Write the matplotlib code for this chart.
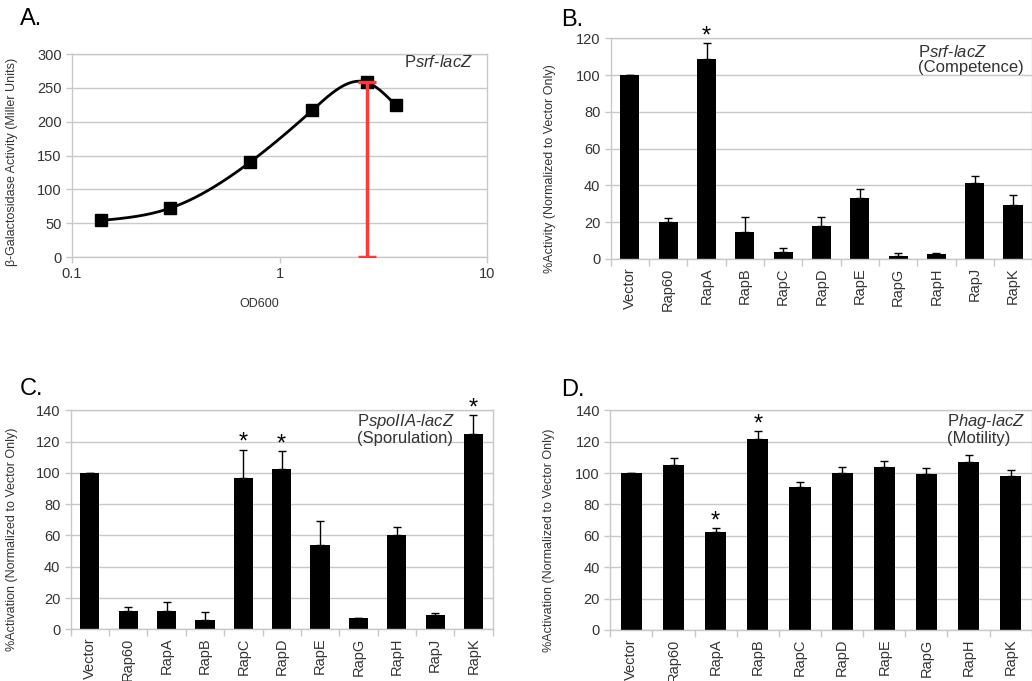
import numpy as np
import matplotlib
matplotlib.use("Agg")
import matplotlib.pyplot as plt

plt.rcParams['font.family'] = ['Liberation Sans', 'DejaVu Sans']
plt.rcParams['mathtext.fontset'] = 'custom'
plt.rcParams['mathtext.rm'] = 'Liberation Sans'
plt.rcParams['mathtext.it'] = 'Liberation Sans:italic'

TXT = '#333333'
GRID = '#c8c8c8'

# ---- panel A data ----
od600 = [0.138, 0.296, 0.72, 1.44, 2.64, 3.64]
miller = [54, 72, 140, 217, 258, 224]
peak_idx = 4

# ---- panel B data ----
cats_b = ['Vector', 'Rap60', 'RapA', 'RapB', 'RapC', 'RapD', 'RapE', 'RapG', 'RapH', 'RapJ', 'RapK']
vals_b = [100, 19.9, 108.9, 14.5, 4.0, 18.1, 33.4, 1.6, 2.7, 41.1, 29.2]
err_b = [0, 2.4, 8.4, 8.2, 2.0, 4.6, 4.8, 1.8, 0.7, 4.0, 5.6]
star_b = ['RapA']

# ---- panel C data ----
cats_c = ['Vector', 'Rap60', 'RapA', 'RapB', 'RapC', 'RapD', 'RapE', 'RapG', 'RapH', 'RapJ', 'RapK']
vals_c = [100, 11.7, 11.7, 5.8, 97.0, 102.5, 54.1, 7.0, 60.3, 8.9, 125.0]
err_c = [0, 2.6, 5.8, 5.5, 17.9, 11.5, 15.4, 0.5, 5.3, 1.8, 11.8]
star_c = ['RapC', 'RapD', 'RapK']

# ---- panel D data ----
cats_d = ['Vector', 'Rap60', 'RapA', 'RapB', 'RapC', 'RapD', 'RapE', 'RapG', 'RapH', 'RapK']
vals_d = [100, 105.4, 62.2, 121.7, 90.9, 100.3, 103.7, 99.4, 107.1, 97.9]
err_d = [0, 4.2, 2.6, 5.1, 3.7, 3.8, 4.0, 3.8, 4.5, 3.9]
star_d = ['RapA', 'RapB']


def natural_spline(x, y, n=300):
    # natural cubic spline for drawing the smoothed line
    x = np.asarray(x, float)
    y = np.asarray(y, float)
    k = len(x)
    h = np.diff(x)
    A = np.zeros((k, k))
    r = np.zeros(k)
    A[0, 0] = A[-1, -1] = 1
    for i in range(1, k - 1):
        A[i, i - 1] = h[i - 1]
        A[i, i] = 2 * (h[i - 1] + h[i])
        A[i, i + 1] = h[i]
        r[i] = 3 * ((y[i + 1] - y[i]) / h[i] - (y[i] - y[i - 1]) / h[i - 1])
    c = np.linalg.solve(A, r)
    b = (y[1:] - y[:-1]) / h - h * (2 * c[:-1] + c[1:]) / 3
    d = (c[1:] - c[:-1]) / (3 * h)
    xs = np.linspace(x[0], x[-1], n)
    idx = np.clip(np.searchsorted(x, xs) - 1, 0, k - 2)
    dx = xs - x[idx]
    ys = y[idx] + b[idx] * dx + c[idx] * dx ** 2 + d[idx] * dx ** 3
    return xs, ys


def style_axes(ax):
    for s in ax.spines.values():
        s.set_color(GRID)
        s.set_linewidth(1.0)
    ax.grid(axis='y', color=GRID, linewidth=1.0)
    ax.set_axisbelow(True)
    ax.tick_params(axis='both', colors=GRID, labelcolor=TXT, labelsize=10.5,
                   length=4, width=1.0)


def bar_panel(ax, cats, vals, errs, stars, ymax, label, ylabel_pos):
    x = np.arange(len(cats))
    ax.bar(x, vals, width=0.5, color='black', zorder=2)
    ax.errorbar(x, vals, yerr=[np.zeros(len(errs)), errs], fmt='none',
                ecolor='black', elinewidth=1.0, capsize=3, capthick=1.0, zorder=3)
    for c in stars:
        i = cats.index(c)
        ax.annotate('*', (x[i], vals[i] + errs[i]), xytext=(0, -3),
                    textcoords='offset points', ha='center', va='bottom',
                    fontsize=17, color='black')
    ax.set_xlim(-0.5, len(cats) - 0.5)
    ax.set_ylim(0, ymax)
    ax.set_yticks(np.arange(0, ymax + 1, 20))
    ax.set_xticks(x)
    ax.set_xticklabels(cats, rotation=90)
    ax.set_xticks(np.arange(len(cats) + 1) - 0.5, minor=True)
    style_axes(ax)
    ax.tick_params(axis='x', which='major', length=0, pad=6)
    ax.tick_params(axis='x', which='minor', colors=GRID, length=5, width=1.0)
    ax.set_ylabel(label, fontsize=9, color=TXT)
    ax.yaxis.set_label_coords(*ylabel_pos)


fig = plt.figure(figsize=(10.32, 6.81), dpi=100)

# ---- A ----
axA = fig.add_axes([0.0698, 0.6226, 0.4021, 0.2981])
lx, ly = natural_spline(np.log10(od600), miller)
axA.plot(10 ** lx, ly, color='black', lw=2.0, zorder=3)
axA.plot(od600, miller, 's', color='black', ms=8, zorder=4)
axA.errorbar([od600[peak_idx]], [miller[peak_idx]], yerr=[[miller[peak_idx]], [0]],
             fmt='none', ecolor='#ff3a3a', elinewidth=2.5, capsize=6.5,
             capthick=2.5, zorder=5)
axA.set_xscale('log')
axA.set_xlim(0.1, 10)
axA.set_ylim(0, 300)
axA.set_yticks(np.arange(0, 301, 50))
axA.set_xticks([0.1, 1, 10])
axA.set_xticklabels(['0.1', '1', '10'])
axA.xaxis.set_minor_locator(matplotlib.ticker.NullLocator())
style_axes(axA)
axA.set_xlabel('OD600', fontsize=9, color=TXT)
axA.xaxis.set_label_coords(0.45, -0.2)
axA.set_ylabel('β-Galactosidase Activity (Miller Units)', fontsize=9, color=TXT)
axA.yaxis.set_label_coords(-0.13, 0.47)
axA.text(0.966, 0.96, r'P$\mathit{srf}$-$\mathit{lacZ}$', transform=axA.transAxes,
         ha='right', va='center', fontsize=12, color=TXT)

# ---- B ----
axB = fig.add_axes([0.5918, 0.6197, 0.4084, 0.3241])
bar_panel(axB, cats_b, vals_b, err_b, star_b, 120,
          '%Activity (Normalized to Vector Only)', (-0.13, 0.41))
axB.text(0.73, 0.975, 'P$\\mathit{srf}$-$\\mathit{lacZ}$\n(Competence)',
         transform=axB.transAxes, ha='left', va='top', fontsize=12,
         color=TXT, linespacing=1.0)

# ---- C ----
axC = fig.add_axes([0.0685, 0.0759, 0.4089, 0.3216])
bar_panel(axC, cats_c, vals_c, err_c, star_c, 140,
          '%Activation (Normalized to Vector Only)', (-0.125, 0.41))
axC.text(0.678, 0.99, 'P$\\mathit{spoIIA}$-$\\mathit{lacZ}$\n(Sporulation)',
         transform=axC.transAxes, ha='left', va='top', fontsize=12,
         color=TXT, linespacing=1.0)

# ---- D ----
axD = fig.add_axes([0.5914, 0.0749, 0.4084, 0.3226])
bar_panel(axD, cats_d, vals_d, err_d, star_d, 140,
          '%Activation (Normalized to Vector Only)', (-0.131, 0.41))
axD.text(0.798, 0.99, 'P$\\mathit{hag}$-$\\mathit{lacZ}$\n(Motility)',
         transform=axD.transAxes, ha='left', va='top', fontsize=12,
         color=TXT, linespacing=1.0)

# panel letters
for lbl, (px, py) in zip(['A.', 'B.', 'C.', 'D.'],
                         [(20, 8), (561, 9), (20, 378), (561, 379)]):
    fig.text(px / 1032, 1 - py / 681, lbl, ha='left', va='top', fontsize=17,
             color='black')

fig.savefig('out.png', dpi=100)
